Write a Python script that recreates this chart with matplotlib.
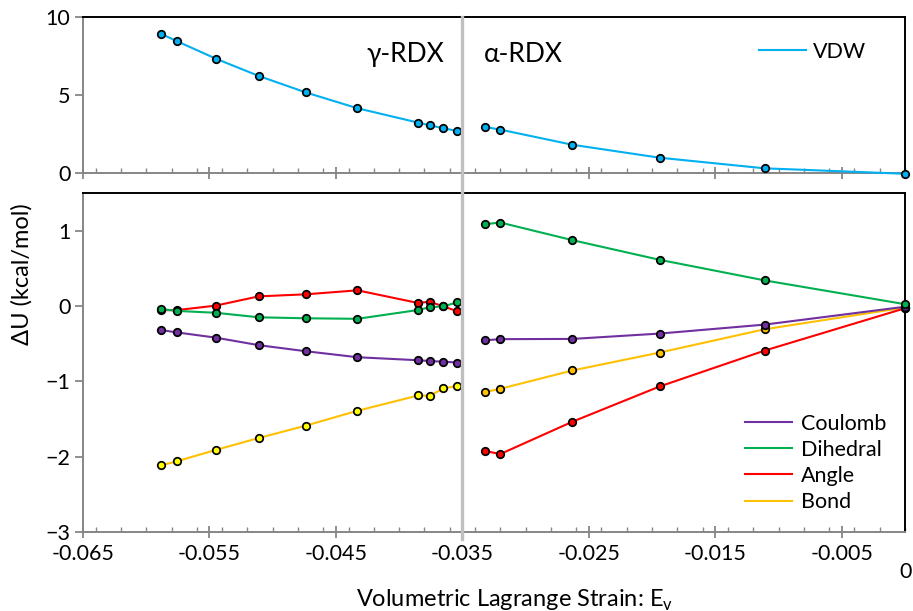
import matplotlib
matplotlib.use("Agg")
import matplotlib.pyplot as plt
from matplotlib.lines import Line2D
from matplotlib.ticker import MultipleLocator, FixedLocator
import matplotlib.transforms as mtransforms

plt.rcParams['font.family'] = ['Lato', 'DejaVu Sans']

# Volumetric Lagrange strain for the two polymorphs
strain_gamma = [-0.0588, -0.0576, -0.0545, -0.0511, -0.0474, -0.0433,
                -0.0385, -0.0376, -0.0365, -0.0354]
strain_alpha = [-0.0332, -0.0320, -0.0263, -0.0194, -0.0111, 0.0]

# Energy changes (kcal/mol)
vdw_gamma = [8.91, 8.46, 7.33, 6.22, 5.17, 4.15, 3.23, 3.06, 2.87, 2.69]
vdw_alpha = [2.95, 2.78, 1.81, 0.98, 0.30, -0.05]

coulomb_gamma = [-0.32, -0.35, -0.42, -0.52, -0.60, -0.68, -0.72, -0.73, -0.74, -0.75]
coulomb_alpha = [-0.455, -0.44, -0.437, -0.366, -0.247, -0.01]

dihedral_gamma = [-0.04, -0.065, -0.09, -0.15, -0.163, -0.17, -0.053, -0.017, -0.005, 0.049]
dihedral_alpha = [1.086, 1.108, 0.874, 0.613, 0.34, 0.024]

angle_gamma = [-0.055, -0.055, 0.005, 0.128, 0.155, 0.208, 0.04, 0.057, -0.005, -0.07]
angle_alpha = [-1.925, -1.965, -1.536, -1.068, -0.592, -0.03]

bond_gamma = [-2.115, -2.062, -1.911, -1.752, -1.589, -1.391, -1.188, -1.192, -1.095, -1.06]
bond_alpha = [-1.143, -1.099, -0.856, -0.618, -0.309, -0.02]

x_major_ticks = [-0.065, -0.055, -0.045, -0.035, -0.025, -0.015, -0.005]
x_tick_labels = ['-0.065', '-0.055', '-0.045', '-0.035', '-0.025', '-0.015', '-0.005']

C_VDW = '#00B0F0'
C_COUL = '#7030A0'
C_DIH = '#00B050'
C_ANG = '#FF0000'
C_BOND = '#FFC000'
C_BOND_G_MARK = '#FFFF00'
AXIS_GREY = '#868686'

TICK_FS = 15.5
LABEL_FS = 17
LEG_FS = 15.5

W, H = 913, 611
fig = plt.figure(figsize=(W / 100, H / 100), dpi=100)


def fig_rect(left, top, right, bottom):
    return [left / W, 1 - bottom / H, (right - left) / W, (bottom - top) / H]


ax_top = fig.add_axes(fig_rect(83, 17, 905, 173))
ax_bot = fig.add_axes(fig_rect(83, 193, 905, 532))

LW = 1.5
MS = 5.4
MEW = 1.25


def draw(ax, xs, ys, line_color, face, z):
    ax.plot(xs, ys, color=line_color, lw=LW, marker='o', ms=MS,
            mfc=face, mec='black', mew=MEW, zorder=z, clip_on=False)


draw(ax_top, strain_gamma, vdw_gamma, C_VDW, C_VDW, 3)
draw(ax_top, strain_alpha, vdw_alpha, C_VDW, C_VDW, 3)

draw(ax_bot, strain_gamma, bond_gamma, C_BOND, C_BOND_G_MARK, 3)
draw(ax_bot, strain_alpha, bond_alpha, C_BOND, C_BOND, 3)
draw(ax_bot, strain_gamma, angle_gamma, C_ANG, C_ANG, 4)
draw(ax_bot, strain_alpha, angle_alpha, C_ANG, C_ANG, 4)
draw(ax_bot, strain_gamma, coulomb_gamma, C_COUL, C_COUL, 5)
draw(ax_bot, strain_alpha, coulomb_alpha, C_COUL, C_COUL, 5)
draw(ax_bot, strain_gamma, dihedral_gamma, C_DIH, C_DIH, 6)
draw(ax_bot, strain_alpha, dihedral_alpha, C_DIH, C_DIH, 6)

for ax in (ax_top, ax_bot):
    ax.set_xlim(-0.065, 0.0)
    ax.xaxis.set_major_locator(FixedLocator(x_major_ticks))
    ax.xaxis.set_minor_locator(MultipleLocator(0.002))
    for side in ('left', 'bottom'):
        ax.spines[side].set_color(AXIS_GREY)
        ax.spines[side].set_linewidth(1.4)
    for side in ('top', 'right'):
        ax.spines[side].set_color('black')
        ax.spines[side].set_linewidth(1.4)
    ax.tick_params(axis='x', which='major', direction='inout', length=8,
                   width=1.3, color=AXIS_GREY, labelsize=TICK_FS, pad=5)
    ax.tick_params(axis='x', which='minor', direction='in', length=3.5,
                   width=1.0, color=AXIS_GREY)
    ax.tick_params(axis='y', which='major', direction='out', length=6,
                   width=1.3, color=AXIS_GREY, labelsize=TICK_FS, pad=3)
    ax.tick_params(axis='y', which='minor', left=False)

ax_top.set_ylim(0, 10)
ax_top.yaxis.set_major_locator(MultipleLocator(5))
ax_top.tick_params(axis='x', labelbottom=False)

ax_bot.set_ylim(-3, 1.5)
ax_bot.set_yticks([-3, -2, -1, 0, 1])
ax_bot.set_xticklabels(x_tick_labels)
zero_lbl = ax_bot.text(0.0, -3, '0', ha='center', va='top', fontsize=TICK_FS, clip_on=False)
zero_lbl.set_transform(ax_bot.transData +
                       mtransforms.ScaledTranslation(1 / 100, -30 / 100, fig.dpi_scale_trans))

# Phase boundary between gamma and alpha RDX
blend = mtransforms.blended_transform_factory(ax_bot.transData, fig.transFigure)
fig.add_artist(Line2D([-0.035, -0.035], [1 - 539 / H, 1 - 17 / H], transform=blend,
                      color='#BFBFBF', lw=2.4, zorder=1))

ax_top.text(-0.0364, 7.1, 'γ-RDX', ha='right', va='baseline', fontsize=19)
ax_top.text(-0.0333, 7.1, 'α-RDX', ha='left', va='baseline', fontsize=19)

ax_top.legend(handles=[Line2D([], [], color=C_VDW, lw=LW)], labels=['VDW'],
              loc='center left', bbox_to_anchor=(759 / W, 1 - 52 / H),
              bbox_transform=fig.transFigure, frameon=False, fontsize=LEG_FS,
              handlelength=2.2, handletextpad=0.3, borderpad=0, borderaxespad=0)

bot_handles = [Line2D([], [], color=c, lw=LW) for c in (C_COUL, C_DIH, C_ANG, C_BOND)]
ax_bot.legend(handles=bot_handles, labels=['Coulomb', 'Dihedral', 'Angle', 'Bond'],
              loc='center left', bbox_to_anchor=(745 / W, 1 - 463 / H),
              bbox_transform=fig.transFigure, frameon=False, fontsize=LEG_FS,
              handlelength=2.2, handletextpad=0.4, labelspacing=0.28,
              borderpad=0, borderaxespad=0)

fig.text(22 / W, 1 - 274 / H, 'ΔU (kcal/mol)', rotation=90, ha='center', va='center',
         fontsize=LABEL_FS)
fig.text(515 / W, 1 - 600 / H, r'Volumetric Lagrange Strain: E$_\mathregular{v}$',
         ha='center', va='center', fontsize=LABEL_FS)

fig.savefig('out.png', dpi=100)
